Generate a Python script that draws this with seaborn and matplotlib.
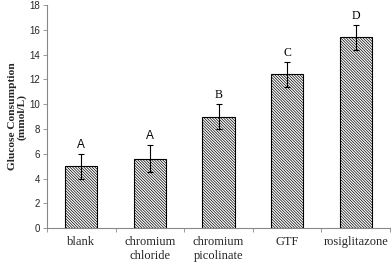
import matplotlib
matplotlib.use("Agg")
import matplotlib.pyplot as plt
import seaborn as sns
import pandas as pd
import numpy as np

categories = ["blank", "chromium\nchloride", "chromium\npicolinate", "GTF", "rosiglitazone"]
values = [5.0, 5.6, 9.0, 12.4, 15.4]
errors = [1.0, 1.1, 1.0, 1.0, 1.0]
letters = ["A", "A", "B", "C", "D"]
yticks = [0, 2, 4, 6, 8, 10, 12, 14, 16, 18]

sns.set_theme(style="white")
plt.rcParams["hatch.linewidth"] = 0.5

df = pd.DataFrame({"category": categories, "value": values})

fig = plt.figure(figsize=(3.92, 2.64), dpi=100)
ax = fig.add_axes([0.12, 0.136, 0.875, 0.845])

sns.barplot(data=df, x="category", y="value", color="white", width=0.47,
            edgecolor="black", linewidth=0.8, ax=ax, errorbar=None)
for p in ax.patches:
    p.set_hatch("\\" * 12)
    p.set_facecolor("white")
    p.set_edgecolor("black")

ax.errorbar(np.arange(len(values)), values, yerr=errors, fmt="none",
            ecolor="black", elinewidth=0.8, capsize=2.5, capthick=0.8, zorder=5)

for i, (v, e, l) in enumerate(zip(values, errors, letters)):
    fam = "Liberation Sans" if l == "A" else "Liberation Serif"
    ax.text(i, v + e + 0.25, l, ha="center", va="bottom", fontsize=8.5,
            family=fam, color="black")

ax.set_ylim(0, 18)
ax.set_xlim(-0.5, len(values) - 0.5)
ax.set_yticks(yticks)
ax.set_yticklabels([str(t) for t in yticks], fontsize=7, family="Liberation Sans")
ax.set_xticks(np.arange(len(values)))
ax.set_xticklabels(categories, fontsize=9, family="Liberation Serif", linespacing=1.15)
ax.set_xticks(np.arange(len(values) + 1) - 0.5, minor=True)
ax.tick_params(axis="x", which="major", length=0, pad=6)
ax.tick_params(axis="x", which="minor", length=3, width=0.6, color="#888888", direction="out", bottom=True)
ax.tick_params(axis="y", which="major", length=3, width=0.6, color="#888888", direction="out", left=True, pad=2)
ax.set_xlabel("")
ax.set_ylabel("Glucose Consumption\n(mmol/L)", fontsize=8.2, family="Liberation Serif",
              fontweight="bold", labelpad=2, linespacing=1.0)
for s in ["top", "right"]:
    ax.spines[s].set_visible(False)
for s in ["left", "bottom"]:
    ax.spines[s].set_color("#888888")
    ax.spines[s].set_linewidth(0.8)

fig.savefig("out.png", dpi=100)
